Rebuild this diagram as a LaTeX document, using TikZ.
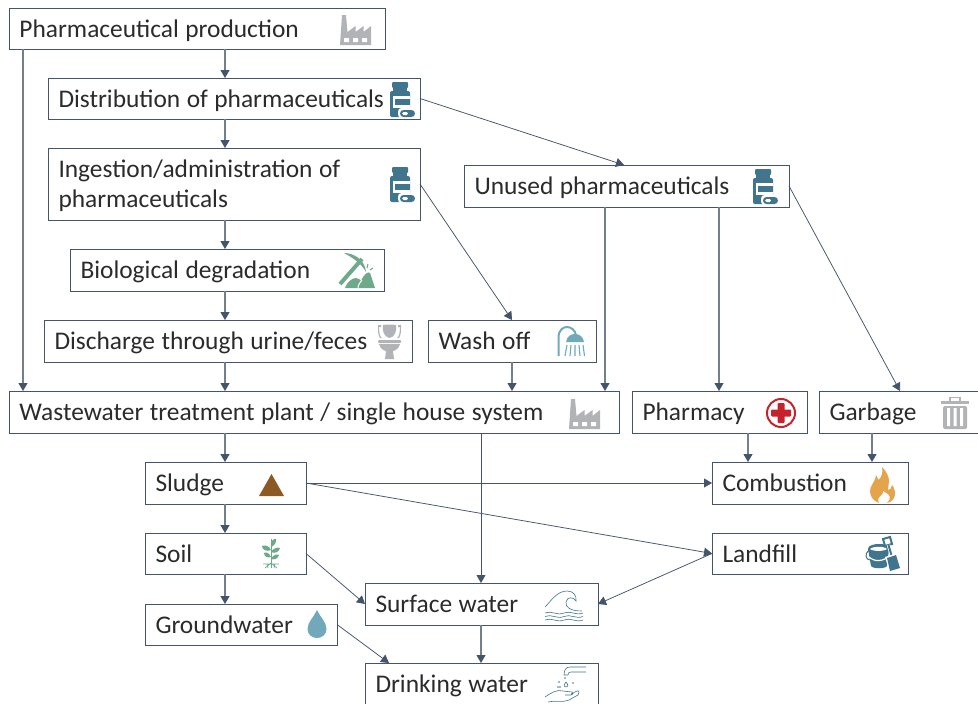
\documentclass[tikz,border=0pt]{standalone}
\usepackage{fontspec}
\setmainfont[WordSpace=1.13]{Carlito}
\usetikzlibrary{arrows.meta}
\definecolor{linec}{HTML}{44546A}
\definecolor{txt}{HTML}{2B2B2B}
\definecolor{gry}{HTML}{B1B3B6}
\definecolor{teal}{HTML}{41748D}
\definecolor{lteal}{HTML}{72A9BA}
\definecolor{grn}{HTML}{6FA98C}
\definecolor{redc}{HTML}{C5222B}
\definecolor{brn}{HTML}{8B5A24}
\definecolor{org}{HTML}{E3A44B}
\tikzset{
 box/.style={draw=linec,line width=1pt,fill=white,anchor=north west,inner xsep=10.5pt,inner ysep=0pt,
   align=flush left,text=txt,font=\fontsize{25.4}{30}\selectfont,outer sep=0pt,text height=17pt,text depth=0pt},
 conn/.style={draw=linec,line width=0.75pt,-{Triangle[length=8pt,width=9pt]},shorten >=0pt},
 vconn/.style={draw=linec!75,line width=1.1pt,-{Triangle[length=8pt,width=9pt,color=linec]}}
}
\newcommand{\mkbox}[7][]{\node[box,minimum width=#5pt-#3pt,minimum height=#6pt-#4pt,text width=#5pt-#3pt-21pt,#1] (#2) at (#3,#4) {#7};}
\newcommand{\factory}[2]{\begin{scope}[shift={(#1,#2)}]
 \fill[gry] (0,0)--(2,-30)--(6,-30)--(7.5,-13)--(15.5,-19)--(15.5,-13)--(23.5,-19)--(23.5,-13)--(31,-19)--(31,0)--cycle;
 \fill[white] (4,-7) rectangle (9,-3) (13,-7) rectangle (18,-3) (22,-7) rectangle (27,-3);
\end{scope}}
\newcommand{\pills}[2]{\begin{scope}[shift={(#1,#2)}]
 \fill[teal,rounded corners=1pt] (2,0) rectangle (18,6);
 \fill[teal] (3,6) rectangle (17,9);
 \fill[teal,rounded corners=2pt] (0,9) rectangle (20,35);
 \fill[white] (3,14) rectangle (20,26);
 \fill[teal] (5,17) rectangle (20,23);
 \fill[white,rounded corners=3.5pt] (8,26) rectangle (26,36);
 \fill[teal,rounded corners=3.5pt] (10,28) rectangle (25,35);
 \fill[white,rounded corners=1.5pt] (12,30) rectangle (18,33);
\end{scope}}
\begin{document}
\begin{tikzpicture}[x=1pt,y=-1pt]
\useasboundingbox (0,0) rectangle (978,704);
\fill[white] (0,0) rectangle (978,704);
\mkbox{prod}{9}{8}{385}{49}{Pharmaceutical production}
\mkbox{dist}{48}{78}{420}{119}{Distribution of pharmaceuticals}
\mkbox[text depth=30pt]{ingest}{48}{148}{420}{220}{Ingestion/administration of\\pharmaceuticals}
\mkbox{bio}{70}{249}{384}{291}{Biological degradation}
\mkbox{disch}{44}{320}{412}{362}{Discharge through urine/feces}
\mkbox{wash}{428}{320}{596}{362}{Wash off}
\mkbox{wwtp}{9}{391}{619}{433}{Wastewater treatment plant / single house system}
\mkbox{unused}{464}{165}{789}{207}{Unused pharmaceuticals}
\mkbox{pharm}{632}{391}{807}{433}{Pharmacy}
\mkbox{garb}{819}{391}{985}{433}{Garbage}
\mkbox{sludge}{145}{462}{306}{504}{Sludge}
\mkbox{comb}{712}{462}{908}{504}{Combustion}
\mkbox{soil}{145}{533}{306}{574}{Soil}
\mkbox{land}{712}{533}{908}{574}{Landfill}
\mkbox{gw}{145}{604}{337}{645}{Groundwater}
\mkbox{surf}{365}{583}{598}{625}{Surface water}
\mkbox{drink}{365}{663}{598}{704.6}{Drinking water}
% connectors
\draw[vconn] (prod.south -| 23,0) -- (wwtp.north -| 23,0);
\draw[vconn] (prod.south -| 225,0) -- (dist.north -| 225,0);
\draw[vconn] (dist.south -| 225,0) -- (ingest.north -| 225,0);
\draw[vconn] (ingest.south -| 225,0) -- (bio.north -| 225,0);
\draw[vconn] (bio.south -| 225,0) -- (disch.north -| 225,0);
\draw[vconn] (disch.south -| 225,0) -- (wwtp.north -| 225,0);
\draw[vconn] (wwtp.south -| 225,0) -- (sludge.north -| 225,0);
\draw[vconn] (sludge.south -| 225,0) -- (soil.north -| 225,0);
\draw[vconn] (soil.south -| 225,0) -- (gw.north -| 225,0);
\draw[conn] (dist.east) -- (unused.north -| 624,0);
\draw[conn] (ingest.east) -- (wash.north -| 512,0);
\draw[vconn] (wash.south -| 512,0) -- (wwtp.north -| 512,0);
\draw[vconn] (unused.south -| 605,0) -- (wwtp.north -| 605,0);
\draw[vconn] (unused.south -| 719,0) -- (pharm.north -| 719,0);
\draw[conn] (unused.east) -- (garb.north -| 900,0);
\draw[vconn] (pharm.south -| 748,0) -- (comb.north -| 748,0);
\draw[vconn] (garb.south -| 872,0) -- (comb.north -| 872,0);
\draw[conn] (wwtp.south -| 481,0) -- (surf.north -| 481,0);
\draw[conn] (sludge.east) -- (comb.west);
\draw[conn] (sludge.east) -- (land.west);
\draw[conn] (soil.east) -- (surf.west);
\draw[conn] (land.west) -- (surf.east);
\draw[conn] (gw.east) -- (drink.north -| 389,0);
\draw[vconn] (surf.south -| 481,0) -- (drink.north -| 481,0);
% icons
\factory{340}{45}
\factory{569}{429}
\pills{390}{82}
\pills{390}{167}
\pills{753}{169}
% pickaxe
\begin{scope}[shift={(337,253)}]
 \draw[grn,line width=4pt] (3,31) -- (25,6);
 \fill[grn] (7,0) .. controls (16,0) and (28,6) .. (29,19) .. controls (24,10) and (16,5) .. (7,0) -- cycle;
 \fill[grn] (8,35) .. controls (10,29) and (15,25) .. (19,25) .. controls (22,25) and (23,27) .. (24,28) .. controls (27,21) and (31,18) .. (33,20) -- (38,35) -- cycle;
 \draw[white,line width=1pt] (21,35) .. controls (21,31) and (24,29) .. (25,27);
 \draw[grn,line width=1pt] (30,15) -- (31,11) (33,17) -- (36,15) (26,14) -- (25,11);
\end{scope}
% toilet
\begin{scope}[shift={(378,325)}]
 \fill[gry] (5,0) .. controls (6,-0.5) and (17,-0.5) .. (18,0) .. controls (19,6) and (17,12) .. (11.5,13) .. controls (6,12) and (4,6) .. (5,0) -- cycle;
 \fill[gry] (0,0) rectangle (3,2) (20,0) rectangle (23,2);
 \fill[gry] (1,2) .. controls (1,8) and (2,12) .. (4,13) -- (2,13) .. controls (0,10) and (0,6) .. (0,2) -- cycle;
 \fill[gry] (22,2) .. controls (22,8) and (21,12) .. (19,13) -- (21,13) .. controls (23,10) and (23,6) .. (23,2) -- cycle;
 \fill[gry,rounded corners=1pt] (0,15) rectangle (23,18);
 \fill[gry] (1,19) .. controls (2,24) and (7,26) .. (8,26) -- (7,34) -- (16,34) -- (15,26) .. controls (16,26) and (21,24) .. (22,19) -- cycle;
\end{scope}
% shower
\begin{scope}[shift={(557,326)}]
 \draw[lteal,line width=2pt] (1.5,30) -- (1.5,12) .. controls (1.5,3) and (7,1) .. (10,1) .. controls (14,1) and (18,4) .. (19,9);
 \fill[lteal] (9,16) .. controls (10,10) and (14,8) .. (18,8) .. controls (23,8) and (26,11) .. (27,16) -- cycle;
 \draw[lteal,line width=1.1pt] (10,19) -- (8,30) (14,19) -- (13,30) (18,19) -- (18,30) (22,19) -- (23,30) (26,19) -- (27.5,30);
\end{scope}
% pharmacy cross
\begin{scope}[shift={(781,413)}]
 \draw[redc,line width=2pt] (0,0) circle (14);
 \fill[redc,rounded corners=1pt] (-3.5,-10) rectangle (3.5,10);
 \fill[redc,rounded corners=1pt] (-10,-3.5) rectangle (10,3.5);
\end{scope}
% trash
\begin{scope}[shift={(941,396)}]
 \fill[gry] (0,5) rectangle (28,8);
 \draw[gry,line width=1.6pt] (9,5) -- (9,1.5) -- (19,1.5) -- (19,5);
 \fill[gry,rounded corners=1.5pt] (2,10) rectangle (26,33);
 \fill[white] (6,12) rectangle (9,30) (12.5,12) rectangle (15.5,30) (19,12) rectangle (22,30);
\end{scope}
% flame
\begin{scope}[shift={(870,467)}]
 \fill[org] (9,36) .. controls (3,34) and (0,29) .. (0,24) .. controls (0,18) and (5,16) .. (6,8) .. controls (7,10) and (8,12) .. (8.5,13) .. controls (12,10) and (13,5) .. (12,0) .. controls (16,4) and (19,9) .. (19,14) .. controls (19,17) and (18,20) .. (18,23) .. controls (20,23) and (22,21) .. (22,18) .. controls (24,20) and (25,24) .. (25,27) .. controls (25,31) and (22,35) .. (17,36) .. controls (20,33) and (21,30) .. (18,27) .. controls (16,25) and (15,25) .. (13,24) .. controls (14,28) and (8,29) .. (8,33) .. controls (8,34) and (8,35) .. (9,36) -- cycle;
\end{scope}
% bucket and shovel
\begin{scope}[shift={(866,536)}]
 \fill[teal] (2,13) .. controls (2,9) and (9,8) .. (13,8) .. controls (18,8) and (23,9) .. (23,13) -- (21,30) .. controls (19,33) and (7,33) .. (5,30) -- cycle;
 \fill[white] (4,13) .. controls (7,15.5) and (18,15.5) .. (21,13) .. controls (18,10) and (7,10) .. (4,13) -- cycle;
 \draw[teal,line width=1pt] (3,14) .. controls (-2,18) and (0,24) .. (4,24);
 \draw[white,line width=1.2pt] (3,21) .. controls (8,26) and (18,26) .. (24,19);
 \draw[teal,line width=2pt] (17,3) -- (24,1) -- (26,8) -- (19,10) -- cycle;
 \draw[white,line width=3.5pt] (22.5,9) -- (26,21);
 \draw[teal,line width=2pt] (22.5,9) -- (26,21);
 \fill[white] (19,21) -- (31,17) -- (36,33) -- (24,37) -- cycle;
 \fill[teal] (21,22) -- (30,19) -- (34,32) -- (24,35) -- cycle;
\end{scope}
% sludge triangle
\fill[brn] (259,496) -- (271.5,474) -- (284,496) -- cycle;
% plant
\begin{scope}[shift={(271,539)}]
 \draw[grn,line width=1pt] (0,0) -- (0,29);
 \fill[grn] (0,8) .. controls (-2,2) and (4,-1) .. (5,0) .. controls (6,3) and (3,7) .. (0,8) -- cycle;
 \fill[grn] (0,11) .. controls (-2,6) and (-7,6) .. (-9,7) .. controls (-9,11) and (-4,13) .. (0,11) -- cycle;
 \fill[grn] (0,13) .. controls (2,9) and (7,8) .. (9,9) .. controls (8,13) and (4,15) .. (0,13) -- cycle;
 \fill[grn] (0,18) .. controls (-2,13) and (-6,13) .. (-7,14) .. controls (-7,18) and (-3,19) .. (0,18) -- cycle;
 \fill[grn] (0,20) .. controls (2,15) and (7,15) .. (8,16) .. controls (7,20) and (3,21) .. (0,20) -- cycle;
 \draw[grn,line width=0.7pt] (-8,25) -- (8,25) (0,24) -- (-6,29) (0,24) -- (6,29) (-4,25)--(-3,29) (4,25)--(3,29);
\end{scope}
% drop
\fill[lteal] (317,610) .. controls (320,617) and (326.5,622) .. (326.5,629) .. controls (326.5,634.5) and (322,638) .. (317,638) .. controls (312,638) and (307.5,634.5) .. (307.5,629) .. controls (307.5,622) and (314,617) .. (317,610) -- cycle;
% wave
\begin{scope}[shift={(545,591)},teal,line width=0.6pt]
 \draw (0,16) .. controls (6,10) and (12,0) .. (22,0) .. controls (28,0) and (32,4) .. (31,10) .. controls (29,6) and (22,5) .. (21,11) .. controls (20,16) and (25,20) .. (37,20);
 \draw (0,22) .. controls (6,19) and (12,25) .. (19,22) .. controls (25,19) and (31,25) .. (38,22);
 \draw (0,25.5) .. controls (6,22.5) and (12,28.5) .. (19,25.5) .. controls (25,22.5) and (31,28.5) .. (38,25.5);
 \draw (0,29) .. controls (6,26) and (12,32) .. (19,29) .. controls (25,26) and (31,32) .. (38,29);
\end{scope}
% tap and hand
\begin{scope}[shift={(545,667)},teal,line width=0.6pt]
 \draw (41,0) -- (25,0) .. controls (21,0) and (19,3) .. (19,8) -- (23,8) .. controls (23,6) and (24,5) .. (26,5) -- (41,5);
 \draw (21,15) .. controls (19,18) and (18,19) .. (21,20) .. controls (24,19) and (23,18) .. (21,15);
 \fill (14,15) circle (0.8) (28,16) circle (0.8) (15,20) circle (0.8) (13,20) circle (0.8) (20,11) circle (0.8);
 \draw (0,30) .. controls (6,26) and (12,22) .. (18,24) -- (27,25) .. controls (29,26) and (28,28) .. (26,28) -- (20,28) (26,27) -- (32,24) .. controls (35,23) and (34,27) .. (33,28) -- (24,33) .. controls (16,36) and (10,33) .. (3,35);
\end{scope}
\end{tikzpicture}
\end{document}
